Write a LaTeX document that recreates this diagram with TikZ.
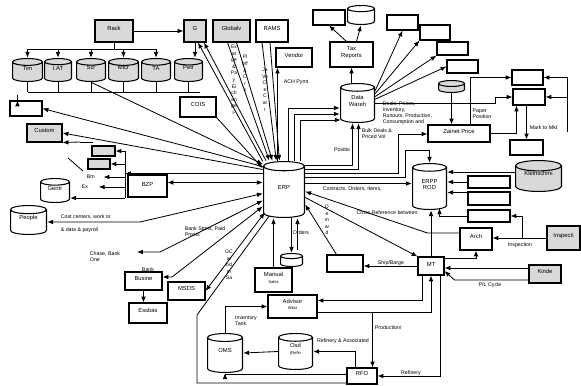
\documentclass[tikz,border=0pt]{standalone}
\usepackage{fontspec}
\setmainfont{Liberation Sans}
\usetikzlibrary{shapes.geometric,fit,calc,arrows.meta}

\tikzset{
  box/.style={draw, line width=0.9pt, inner sep=0pt, align=center},
  gbox/.style={box, fill=gray!30},
  cyl/.style={inner sep=0pt, align=center, path picture={
    \filldraw[line width=0.9pt, fill=#1]
      let \p1=(path picture bounding box.south west), \p2=(path picture bounding box.north east),
          \n1={(\x2-\x1)/2-0.45pt}, \n2={0.22*(\x2-\x1)/2}
      in (\x1+0.45pt,\y2-0.45pt-\n2*1pt) -- (\x1+0.45pt,\y1+0.45pt+\n2*1pt)
         arc[start angle=180, end angle=360, x radius=\n1*1pt, y radius=\n2*1pt]
         -- (\x2-0.45pt,\y2-0.45pt-\n2*1pt)
         arc[start angle=0, end angle=180, x radius=\n1*1pt, y radius=\n2*1pt] -- cycle
         (\x1+0.45pt,\y2-0.45pt-\n2*1pt)
         arc[start angle=180, end angle=360, x radius=\n1*1pt, y radius=\n2*1pt];
  }},
  db/.style={cyl=white},
  gdb/.style={cyl=gray!30},
  arr/.style={line width=0.7pt, -{Latex[length=5pt,width=4pt]}},
  arr2/.style={line width=0.7pt, {Latex[length=5pt,width=4pt]}-{Latex[length=5pt,width=4pt]}},
  ln/.style={line width=0.7pt},
  lbl/.style={font=\fontsize{4.5}{5}\selectfont, inner sep=0.5pt, align=left},
  vlbl/.style={font=\fontsize{4.3}{5.6}\selectfont, inner sep=0pt, align=center, anchor=north}
}

\begin{document}
\begin{tikzpicture}[x=0.03cm, y=-0.03cm, font=\fontsize{5}{5.5}\selectfont]
  \useasboundingbox (0,0) rectangle (581,385);

  % top row
  \node[gbox, fit={(95,20) (133,42)}] (rack) {Rack};
  \node[gbox, fit={(184,20) (206,42)}] (g) {G};
  \node[gbox, fit={(213,20) (250,42)}] (globalv) {Globalv};
  \node[box, fit={(256,20) (288,42)}] (rams) {RAMS};
  \node[box, fit={(276,48) (312,67)}] (vendor) {Vendor};
  \node[box, fit={(180,97) (216,117)}] (cois) {COIS};
  \node[box, fit={(330,42) (373,67)}] (tax) {Tax\\Reports};
  \node[box, fit={(313,10) (345,25)}] (tra) {};
  \node[db, fit={(347,5) (375,25)}] (tc) {};

  \node[gdb, fit={(12,58) (43,82)}] (tim) {Tim};
  \node[gdb, fit={(44,58) (72,82)}] (iat) {I.AT};
  \node[gdb, fit={(76,58) (106,82)}] (scr) {Scr};
  \node[gdb, fit={(108,58) (139,82)}] (micr) {Micr};
  \node[gdb, fit={(141,58) (171,82)}] (ta) {TA};
  \node[gdb, fit={(174,58) (203,82)}] (petr) {Petr};

  % left side
  \node[box, fit={(10,101) (42,116)}] (tbox) {};
  \node[gbox, fit={(27,124) (62,142)}] (custom) {Custom};
  \node[gbox, fit={(92,146) (115,156)}] (gba) {};
  \node[gbox, fit={(88,159) (110,169)}] (gbb) {};
  \node[lbl, anchor=west] (bm) at (86,177) {Bm};
  \node[lbl, anchor=west] (ex) at (81,187) {Ex};
  \node[db, fit={(40,178) (70,203)}] (gentr) {Gentr};
  \node[db, fit={(10,205) (47,235)}] (people) {People};
  \node[box, fit={(128,175) (167,197)}] (bzp) {BZP};
  \node[box, fit={(125,272) (162,290)}] (busine) {Busine};
  \node[box, fit={(129,303) (167,323)}] (essbas) {Essbas};
  \node[box, fit={(168,282) (205,300)}] (msds) {MSDS};

  % centre
  \node[db, fit={(263,161) (305,218)}] (erp) {ERP};
  \node[db, fit={(340,83) (375,123)}] (dw) {Data\\Wareh};
  \node[db, fit={(280,253) (303,267)}] (orders) {};
  \node[box, fit={(255,268) (292,292)}] (manual) {Manual\\{\fontsize{3.5}{4}\selectfont Sales}};
  \node[box, fit={(268,295) (317,318)}] (advisor) {Advisor\\{\fontsize{3.5}{4}\selectfont Wkst}};
  \node[db, fit={(207,333) (243,373)}] (oms) {OMS};
  \node[db, fit={(278,333) (313,370)}] (osd) {Osd\\{\fontsize{3.5}{4}\selectfont (Refin}};
  \node[box, fit={(347,368) (377,384)}] (rfo) {RFO};
  \node[box, fit={(327,255) (363,272)}] (ship) {};

  % right side
  \node[box, fit={(387,15) (418,30)}] (b1) {};
  \node[box, fit={(420,25) (450,40)}] (b2) {};
  \node[box, fit={(437,42) (468,55)}] (b3) {};
  \node[box, fit={(447,60) (478,73)}] (b4) {};
  \node[gdb, fit={(438,80) (465,93)}] (gcyl) {};
  \node[box, fit={(512,70) (543,85)}] (b5) {};
  \node[box, fit={(513,89) (545,105)}] (b6) {};
  \node[box, fit={(428,125) (490,142)}] (zainet) {Zainet Price};
  \node[box, fit={(510,140) (543,155)}] (mkt) {};
  \node[db, fit={(412,163) (447,210)}] (erpp) {ERPP\\ROD};
  \node[gdb, fit={(515,160) (562,192)}] (klein) {Kleinschmi};
  \node[box, fit={(468,176) (510,188)}] (e1) {};
  \node[box, fit={(468,192) (510,205)}] (e2) {};
  \node[box, fit={(468,210) (510,222)}] (e3) {};
  \node[box, fit={(460,228) (492,250)}] (arch) {Arch};
  \node[gbox, fit={(547,226) (580,250)}] (inspecti) {Inspecti};
  \node[box, fit={(418,257) (444,275)}] (mt) {MT};
  \node[gbox, fit={(529,265) (561,283)}] (kinde) {Kinde};

  % rack and its tanks
  \coordinate (bus) at (0,49);
  \coordinate (bot) at (0,92);
  \draw[arr] (rack) -- (g);
  \draw[ln] (rack) -- (rack |- bus);
  \draw[ln] (tim.north |- bus) -- (ta.north |- bus);
  \foreach \c in {tim,iat,scr,micr,ta} \draw[arr] (\c.north |- bus) -- (\c.north);
  \draw[arr] (g.south) -- (g.south |- petr.north);
  \foreach \c in {tim,iat,scr,micr,ta,petr} \draw[ln] (\c.south) -- (\c.south |- bot);
  \coordinate (botend) at (200,92);
  \draw[ln] (tim.south |- bot) -- (botend);
  \draw[arr] ($(tbox.north west)+(8,0)$) -- ($(tbox.north west)+(8,0)$ |- tim.south);

  % into and out of ERP, top and left
  \draw[arr] (scr.south) -- (erp.130);
  \draw[arr] ($(erp.west)+(0,-23)$) -- (tbox.east);
  \draw[arr] ($(erp.west)+(0,-20)$) -- (custom.east);
  \draw[arr] (cois.south east) -- (erp.135);
  \draw[arr] (erp.127) -- ($(g.south)+(3,0)$);
  \draw[arr] (erp.122) -- ($(g.south)+(9,0)$);
  \draw[arr] ($(globalv.south)+(-4,0)$) -- (erp.117);
  \draw[arr] ($(globalv.south)+(5,0)$) -- (erp.112);
  \draw[arr] ($(rams.south)+(-10,0)$) -- (erp.105);
  \draw[arr] ($(rams.south)+(-2,0)$) -- (erp.99);
  \coordinate (vnd) at ($(vendor.south west)+(2,0)$);
  \draw[arr] (vnd |- erp.north) -- (vnd);
  \draw[arr] ($(erp.north)+(4,0)$) |- ($(dw.west)+(0,5)$);
  \draw[arr] ($(erp.north)+(10,0)$) |- ($(dw.west)+(0,11)$);
  \draw[arr] ($(erp.north)+(16,0)$) |- ($(dw.west)+(1,17)$);

  \coordinate (brk) at (80,142);
  \draw[ln] (93,142) -- (brk);
  \draw[arr] (brk) -- (custom.south east);
  \draw[ln] (68,158) -- (83,171);
  \coordinate (tv1) at (125,151);
  \coordinate (tv2) at (125,198);
  \coordinate (t0) at ($(erp.west)+(0,-16)$);
  \draw[arr] (t0) -- (t0 -| tv1);
  \draw[ln] (tv1) -- (tv2);
  \draw[arr] (tv1) -- (tv1 -| gba.east);
  \draw[arr] (tv1 |- gbb.east) -- (gbb.east);
  \draw[arr] (tv1 |- bm.east) -- ($(bm.east)+(8,0)$);
  \draw[arr] (tv1 |- ex.east) -- ($(ex.east)+(10,0)$);
  \draw[arr] (tv2) -- (tv2 -| gentr.east);
  \coordinate (bz) at ($(erp.west)+(0,-7)$);
  \draw[arr2] (bz) -- (bz -| bzp.east);

  \coordinate (pp1) at (140,222);
  \draw[arr2] ($(erp.west)+(0,4)$) -- (pp1) -- (pp1 -| people.east);
  \coordinate (ch1) at (160,252);
  \coordinate (ch2) at (137,252);
  \draw[arr2] ($(erp.west)+(0,11)$) -- (ch1) -- (ch2);
  \coordinate (bu1) at (172,277);
  \draw[arr2] ($(erp.west)+(0,17)$) -- (bu1) -- (bu1 -| busine.east);
  \draw[arr2] ($(erp.west)+(2,23)$) -- (msds.east);
  \draw[arr] (busine.south) -- (busine.south |- essbas.north);
  \coordinate (lg1) at (197,315);
  \coordinate (lg2) at (197,383);
  \draw[ln] ($(erp.south)+(-15,-2)$) -- (lg1) -- (lg2) -- (lg2 -| rfo.west);

  % ERP bottom
  \draw[arr] (orders.north |- erp.south) -- (orders.north);
  \draw[arr] (manual.north) -- (manual.north |- erp.south);
  \coordinate (o2) at ($(orders.north)+(6,-3)$);
  \draw[arr] (o2) -- (o2 |- erp.south);

  % ERP right
  \draw[arr] ($(erp.east)+(0,-24)$) -| ($(dw.south)+(-5,0)$);
  \draw[arr] ($(erp.east)+(0,-20)$) -| ($(dw.south)+(1,0)$);
  \coordinate (zw) at (398,134);
  \draw[arr] ($(erp.east)+(0,-16)$) -| (zw) -- (zw -| zainet.west);
  \coordinate (ew) at (405,150);
  \draw[arr] ($(erp.east)+(0,-12)$) -| (ew) -| (erpp.north);
  \coordinate (ct) at ($(erp.east)+(0,-6)$);
  \draw[arr] (ct) -- (ct -| erpp.west);
  \coordinate (aw) at ($(arch.west)+(0,-6)$);
  \draw[arr] (aw) -- ++(-32,0) -- ($(erp.east)+(0,2)$);
  \draw[arr] ($(erp.east)+(0,8)$) -- (mt.north west);
  \draw[arr] ($(ship.north west)+(10,0)$) -- ($(erp.east)+(0,15)$);

  % data warehouse
  \draw[arr] (tax.south |- dw.north) -- (tax.south);
  \draw[arr] ($(tax.north)+(-5,0)$) -- (tra.south);
  \draw[arr] ($(tax.north)+(5,0)$) -- (tc.south);
  \draw[arr] (dw.35) -- (b1.south);
  \draw[arr] (dw.28) -- (b2.south west);
  \draw[arr] (dw.20) -- (b3.south west);
  \draw[arr] (dw.12) -- (b4.west);
  \draw[arr] (dw.east) -- ++(120,0) |- (b6.west);
  \coordinate (zn) at ($(zainet.north)+(11,0)$);
  \draw[arr] (zn) |- (b5.west);
  \draw[arr] (gcyl.south) -- (gcyl.south |- zainet.north);
  \draw[arr] (zainet.east) -| ($(b6.south west)+(4,0)$);
  \draw[arr] (b6.south -| mkt.north) -- (mkt.north);
  \coordinate (rv) at (567,132);
  \draw[arr] (rv) |- (b5.east);
  \draw[arr] (rv |- b6.east) -- (b6.east);

  % ERPP
  \coordinate (kw) at ($(klein.west)+(0,-4)$);
  \draw[arr] (kw) -- (kw -| erpp.east);
  \draw[arr] (e1.west) -- (e1.west -| erpp.east);
  \coordinate (e2w) at ($(e2.north west)+(0,1)$);
  \draw[arr] (e2w) -- (e2w -| erpp.east);
  \draw[arr] (e3.west) -| ($(erpp.south)+(10,-2)$);
  \coordinate (ij) at ($(inspecti.west)+(-24,0)$);
  \draw[arr] (ij) |- (e3.east);
  \draw[arr] (inspecti.west) -- (inspecti.west -| arch.east);
  \draw[arr] (mt.north) -- (mt.north |- erpp.south);
  \draw[arr] ($(mt.north east)+(0,2)$) -| (arch.south);

  % MT
  \coordinate (k1) at ($(kinde.west)+(0,-6)$);
  \draw[arr] (k1) -- (k1 -| mt.east);
  \coordinate (k2) at ($(kinde.west)+(0,6)$);
  \draw[arr] (k2) -- ++(-74,0) -- ($(mt.east)+(0,5)$);
  \draw[arr] (mt.west) -- (mt.west -| ship.east);
  \draw[arr] ($(mt.south west)+(5,0)$) |- ($(advisor.east)+(0,-6)$);
  \coordinate (ar) at ($(advisor.east)+(55,6)$);
  \draw[arr] ($(advisor.east)+(0,6)$) -- (ar) -- (ar |- rfo.north);
  \draw[arr] (ar) -| (mt.south);
  \draw[arr] ($(mt.south east)+(-4,0)$) |- (rfo.east);

  % bottom
  \draw[arr] (oms.north) |- (advisor.west);
  \draw[arr] ($(rfo.north)+(-7,0)$) |- (osd.east);
  \draw[arr] (osd.west) -- (oms.east);
  \draw[arr] ($(rfo.west)+(0,-2)$) -| (oms.south);

  % labels
  \node[lbl, anchor=west] at (283,82) {ACH Pymt};
  \node[lbl, anchor=north west] at (382,101) {Deals, Prices,\\Inventory,\\Runouts, Production,\\Consumption and};
  \node[lbl, anchor=north west] at (361,128) {Bulk Deals \&\\Priced Vol};
  \node[lbl] at (342,150) {Positio};
  \node[lbl] at (482,114) {Paper\\Position};
  \node[lbl, anchor=west] at (529,128) {Mark to Mkt};
  \node[lbl, anchor=north west] at (322,186) {Contracts, Orders, Items,};
  \node[lbl] at (387,213) {Cross Reference between};
  \node[lbl] at (391,263) {Ship/Barge};
  \node[lbl] at (490,285) {P/L Cycle};
  \node[lbl] at (520,245) {Inspection};
  \node[lbl, anchor=west] at (374,328) {Production/};
  \node[lbl] at (411,373) {Refinery};
  \node[lbl] at (343,341) {Refinery \& Associated};
  \node[lbl] at (246,321) {Inventory\\Tank};
  \node[lbl] at (301,233) {Orders};
  \node[lbl] at (105,257) {Chase, Bank\\One};
  \node[lbl] at (148,270) {Bank};
  \node[lbl, anchor=west] at (60,217) {Cost centers, work or};
  \node[lbl, anchor=west] at (60,230) {\& data \& payroll};
  \node[lbl] at (205,232) {Bank Stmts, Paid\\Pmnts};

  % stacked labels
  \node[vlbl] at (234,45) {Ex\\at\\ge\\\&\\Pa\\y\\Ei\\ch\\an\\ge\\l-};
  \node[vlbl] at (245,55) {Pl\\eff\\\&\\C\\r\\s};
  \node[vlbl] at (265,68) {Ja\\Ve\\Cl\\e\\C\\ar\\r};
  \node[vlbl] at (327,205) {D\\e\\m\\ar\\d};
  \node[vlbl] at (229,250) {GC\\ar\\bd\\m\\Sa};
\end{tikzpicture}
\end{document}
